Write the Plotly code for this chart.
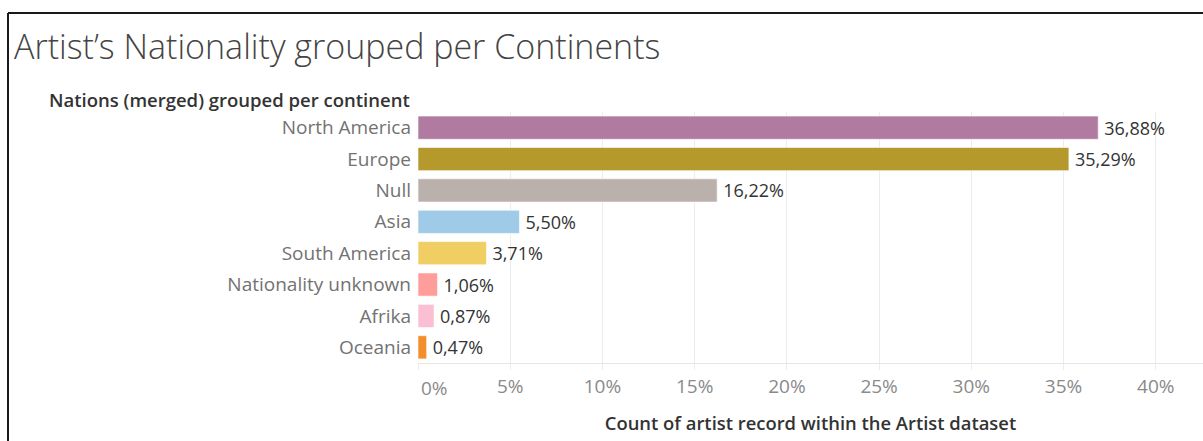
import plotly.graph_objects as go

# Share of artist records per continent (percent of the Artist dataset)
continents = ["North America", "Europe", "Null", "Asia", "South America",
              "Nationality unknown", "Afrika", "Oceania"]
shares = [36.88, 35.29, 16.22, 5.50, 3.71, 1.06, 0.87, 0.47]
bar_colors = ["#b07aa1", "#b6992d", "#bab0ac", "#a0cbe8", "#f1ce63",
              "#ff9d9a", "#fabfd2", "#f28e2b"]
tick_values = [0, 5, 10, 15, 20, 25, 30, 35, 40]
tick_labels = ["0%", "5%", "10%", "15%", "20%", "25%", "30%", "35%", "40%"]

W, H = 1203, 441
ML, MR, MT, MB = 418, 0, 112, 78
plot_w = W - ML - MR
plot_h = H - MT - MB


def px_x(px):
    return (px - ML) / plot_w


def px_y(py):
    return (H - MB - py) / plot_h


fig = go.Figure()
fig.add_trace(go.Bar(
    x=shares,
    y=continents,
    orientation="h",
    marker=dict(color=bar_colors, line=dict(color="rgba(255,255,255,0.6)", width=1)),
    width=0.74,
    text=shares,
    texttemplate="\u2009%{x:.2f}%",
    textposition="outside",
    constraintext="none",
    textfont=dict(family="Open Sans", size=18, color="#333333"),
    cliponaxis=False,
    hoverinfo="skip",
))

fig.update_layout(
    width=W, height=H,
    margin=dict(l=ML, r=MR, t=MT, b=MB),
    paper_bgcolor="white",
    plot_bgcolor="white",
    separators=",.",
    showlegend=False,
    font=dict(family="Open Sans"),
    xaxis=dict(
        range=[0, 42.56],
        tickvals=tick_values,
        ticktext=[""] + tick_labels[1:],
        showgrid=True,
        gridcolor="#ececec",
        gridwidth=1,
        zeroline=False,
        showline=True,
        linecolor="#e6e6e6",
        linewidth=1,
        ticks="outside",
        ticklen=6,
        tickcolor="#ececec",
        tickfont=dict(family="Open Sans", size=19, color="#8a8a8a"),
        title=dict(text="Count of artist record within the Artist dataset",
                   font=dict(family="Open Sans", size=18.4, color="#333333", weight=600),
                   standoff=19),
        fixedrange=True,
    ),
    yaxis=dict(
        categoryorder="array",
        categoryarray=continents,
        range=[7.5, -0.5],
        showgrid=False,
        zeroline=False,
        ticks="",
        ticklabelstandoff=6,
        tickfont=dict(family="Open Sans", size=19, color="#727272"),
        fixedrange=True,
    ),
    annotations=[
        dict(text="Artist’s Nationality grouped per Continents",
             xref="paper", yref="paper", x=px_x(12), y=px_y(46),
             xanchor="left", yanchor="middle", showarrow=False,
             font=dict(family="Open Sans", size=34, color="#444444", weight=300)),
        dict(text="Nations (merged) grouped per continent",
             xref="paper", yref="paper", x=px_x(47), y=px_y(99),
             xanchor="left", yanchor="middle", showarrow=False,
             font=dict(family="Open Sans", size=18.5, color="#333333", weight=600)),
        dict(text=tick_labels[0], xref="x", yref="paper",
             x=tick_values[0], y=px_y(388), xanchor="left", yanchor="middle",
             xshift=1, showarrow=False,
             font=dict(family="Open Sans", size=19, color="#8a8a8a")),
    ],
    shapes=[
        dict(type="line", xref="paper", yref="paper",
             x0=px_x(8), x1=px_x(W + 5), y0=px_y(13), y1=px_y(13),
             line=dict(color="#1a1a1a", width=2)),
        dict(type="line", xref="paper", yref="paper",
             x0=px_x(8), x1=px_x(8), y0=px_y(13), y1=px_y(H + 5),
             line=dict(color="#1a1a1a", width=2)),
    ],
)

fig.write_html("out.html")
